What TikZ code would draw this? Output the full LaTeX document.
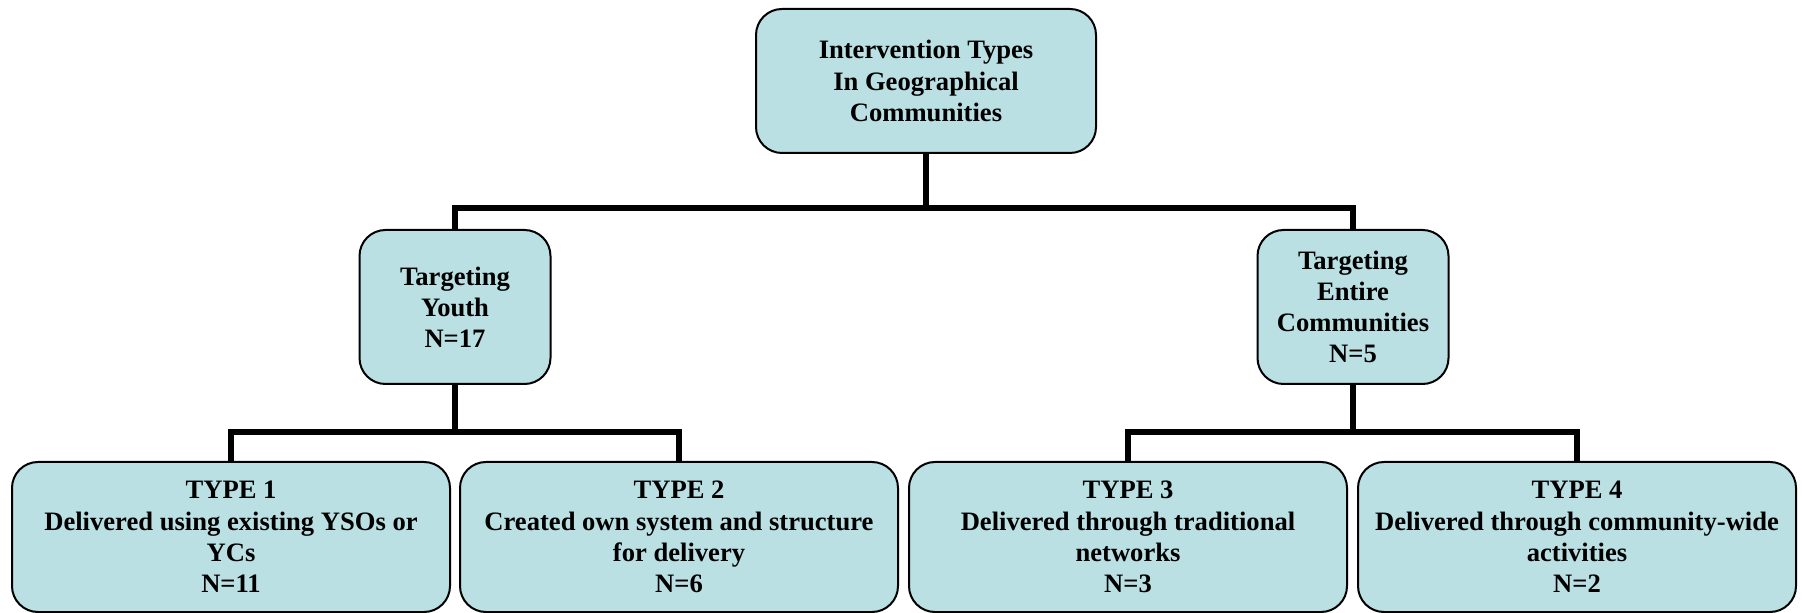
\documentclass[tikz,border=0pt]{standalone}
\usepackage{fontspec}
\setmainfont{Liberation Serif}
\definecolor{boxfill}{RGB}{186,224,228}

\begin{document}
\begin{tikzpicture}[x=0.5pt, y=-0.5pt,
    blk/.style n args={2}{draw=black, fill=boxfill, line width=1pt,
    minimum width=#1pt, minimum height=#2pt,
    rounded corners=13pt, align=center, inner sep=2pt,
    font=\fontsize{13.3}{15.6}\selectfont\bfseries},
    link/.style={line width=2.6pt}]
    \useasboundingbox (0,0) rectangle (1802,613);
    \node[blk={170}{72}](top) at (926,81) {Intervention Types\\In Geographical\\Communities};
    \node[blk={95.5}{77}](youth) at (455,307) {Targeting\\Youth\\N=17};
    \node[blk={95.5}{77}](whole) at (1353,307) {Targeting\\Entire\\Communities\\N=5};
    \node[blk={219}{75}](t1) at (231,537) {TYPE 1\\Delivered using existing YSOs or\\YCs\\N=11};
    \node[blk={219}{75}](t2) at (679,537) {TYPE 2\\Created own system and structure\\for delivery\\N=6};
    \node[blk={219}{75}](t3) at (1128,537) {TYPE 3\\Delivered through traditional\\networks\\N=3};
    \node[blk={219}{75}](t4) at (1577,537) {TYPE 4\\Delivered through community-wide\\activities\\N=2};
    % bars
    \coordinate (bar0) at (0,208);
    \coordinate (bar1) at (0,432);
    \draw[link] (top.south) -- (top.south |- bar0);
    \draw[link] (youth.north) -- (youth.north |- bar0) -- (whole.north |- bar0) -- (whole.north);
    \draw[link] (youth.south) -- (youth.south |- bar1);
    \draw[link] (t1.north) -- (t1.north |- bar1) -- (t2.north |- bar1) -- (t2.north);
    \draw[link] (whole.south) -- (whole.south |- bar1);
    \draw[link] (t3.north) -- (t3.north |- bar1) -- (t4.north |- bar1) -- (t4.north);
\end{tikzpicture}
\end{document}
